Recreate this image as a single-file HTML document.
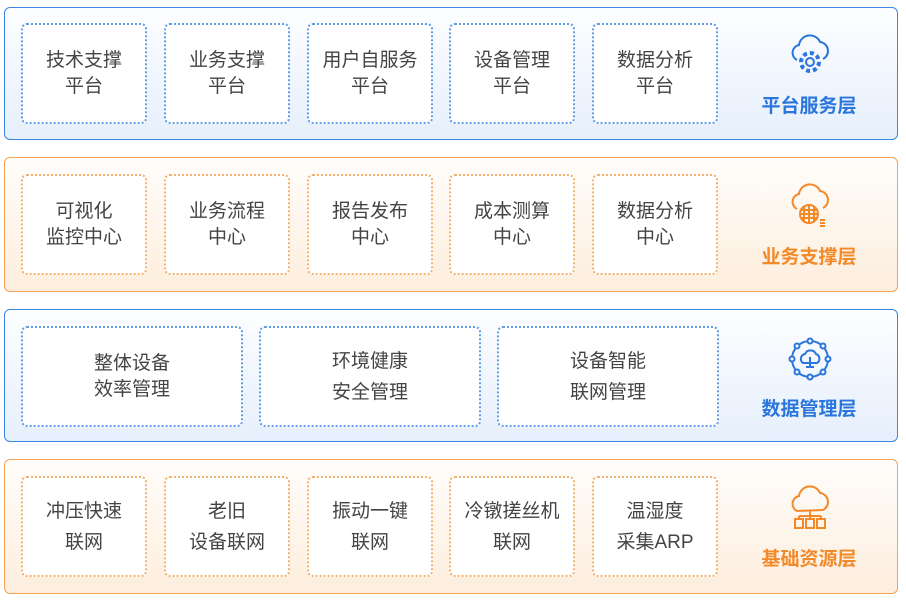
<!DOCTYPE html>
<html><head><meta charset="utf-8"><style>
body{margin:0;width:906px;height:601px;background:#fff;position:relative;overflow:hidden;font-family:"Liberation Sans","Noto Sans CJK SC",sans-serif}
.layer{position:absolute;left:4px;width:894px;border-radius:6px;box-sizing:border-box}
.b{border:1.5px solid #3d87e2;background:linear-gradient(#fdfeff,#e6effc)}
.o{border:1.5px solid #f5a456;background:linear-gradient(#fffdfb,#fdeedd)}
.box{position:absolute;background:#fff;border-radius:6px;box-sizing:border-box;display:flex;align-items:center;justify-content:center;text-align:center;font-size:19px;color:#444;line-height:26px}
.b .box{border:2px dotted #5f9de8}
.o .box{border:2px dotted #f4b06e}
.lbl{position:absolute;left:730px;width:148px;text-align:center;font-size:19px;font-weight:bold}
.b .lbl{color:#2a76dc}.o .lbl{color:#f28a2a}
.ic{position:absolute;left:780px;width:50px;height:48px}
</style></head><body>

<div class="layer b" style="top:7px;height:133px">
<div class="box" style="left:16px;top:15px;width:126px;height:101px">技术支撑<br>平台</div>
<div class="box" style="left:159px;top:15px;width:126px;height:101px">业务支撑<br>平台</div>
<div class="box" style="left:302px;top:15px;width:126px;height:101px">用户自服务<br>平台</div>
<div class="box" style="left:444px;top:15px;width:126px;height:101px">设备管理<br>平台</div>
<div class="box" style="left:587px;top:15px;width:126px;height:101px">数据分析<br>平台</div>
<svg class="ic" style="top:24px" viewBox="0 0 50 48" fill="none" stroke="#2a76dc" stroke-width="2"><path d="M12 28a8 8 0 0 1 2-15a11 11 0 0 1 21-3a9 9 0 0 1 3 17"/><circle cx="25" cy="30" r="4"/><circle cx="25" cy="30" r="9" stroke-dasharray="4 3" stroke-width="4"/></svg>
<div class="lbl" style="top:83px">平台服务层</div>
</div>

<div class="layer o" style="top:157px;height:135px">
<div class="box" style="left:16px;top:16px;width:126px;height:101px">可视化<br>监控中心</div>
<div class="box" style="left:159px;top:16px;width:126px;height:101px">业务流程<br>中心</div>
<div class="box" style="left:302px;top:16px;width:126px;height:101px">报告发布<br>中心</div>
<div class="box" style="left:444px;top:16px;width:126px;height:101px">成本测算<br>中心</div>
<div class="box" style="left:587px;top:16px;width:126px;height:101px">数据分析<br>中心</div>
<svg class="ic" style="top:23px" viewBox="0 0 50 48" fill="none" stroke="#f28a2a" stroke-width="2"><path d="M12 28a8 8 0 0 1 2-15a11 11 0 0 1 21-3a9 9 0 0 1 3 17"/><circle cx="24" cy="33" r="9"/><path d="M15 33h18M24 24v18M19 26v14M29 26v14M16 29h16M16 37h16"/><path d="M35 39h5M35 42h5M35 45h5"/></svg>
<div class="lbl" style="top:84px">业务支撑层</div>
</div>

<div class="layer b" style="top:309px;height:133px">
<div class="box" style="left:16px;top:16px;width:222px;height:101px">整体设备<br>效率管理</div>
<div class="box" style="left:254px;top:16px;width:222px;height:101px;line-height:31px">环境健康<br>安全管理</div>
<div class="box" style="left:492px;top:16px;width:222px;height:101px;line-height:31px">设备智能<br>联网管理</div>
<svg class="ic" style="top:25px" viewBox="0 0 50 48" fill="none" stroke="#2a76dc" stroke-width="2"><circle cx="25" cy="24" r="18"/><circle cx="25" cy="6" r="2.5" fill="#fff"/><circle cx="25" cy="42" r="2.5" fill="#fff"/><circle cx="7" cy="24" r="2.5" fill="#fff"/><circle cx="43" cy="24" r="2.5" fill="#fff"/><circle cx="12" cy="11" r="2.5" fill="#fff"/><circle cx="38" cy="11" r="2.5" fill="#fff"/><circle cx="12" cy="37" r="2.5" fill="#fff"/><circle cx="38" cy="37" r="2.5" fill="#fff"/><path d="M18 28a5 5 0 0 1 2-9a6 6 0 0 1 11 0a5 5 0 0 1 1 9zM25 22v10M21 32h8"/></svg>
<div class="lbl" style="top:84px">数据管理层</div>
</div>

<div class="layer o" style="top:459px;height:135px">
<div class="box" style="left:16px;top:16px;width:126px;height:101px;line-height:31px">冲压快速<br>联网</div>
<div class="box" style="left:159px;top:16px;width:126px;height:101px;line-height:31px">老旧<br>设备联网</div>
<div class="box" style="left:302px;top:16px;width:126px;height:101px;line-height:31px">振动一键<br>联网</div>
<div class="box" style="left:444px;top:16px;width:126px;height:101px;line-height:31px">冷镦搓丝机<br>联网</div>
<div class="box" style="left:587px;top:16px;width:126px;height:101px;line-height:31px">温湿度<br>采集ARP</div>
<svg class="ic" style="top:23px" viewBox="0 0 50 48" fill="none" stroke="#f28a2a" stroke-width="2"><path d="M12 28a8 8 0 0 1 2-15a11 11 0 0 1 21-3a9 9 0 0 1 3 17z"/><path d="M25 28v5M14 33h22M14 33v3M25 33v3M36 33v3"/><rect x="10" y="36" width="8" height="9"/><rect x="21" y="36" width="8" height="9"/><rect x="32" y="36" width="8" height="9"/></svg>
<div class="lbl" style="top:84px">基础资源层</div>
</div>

</body></html>
